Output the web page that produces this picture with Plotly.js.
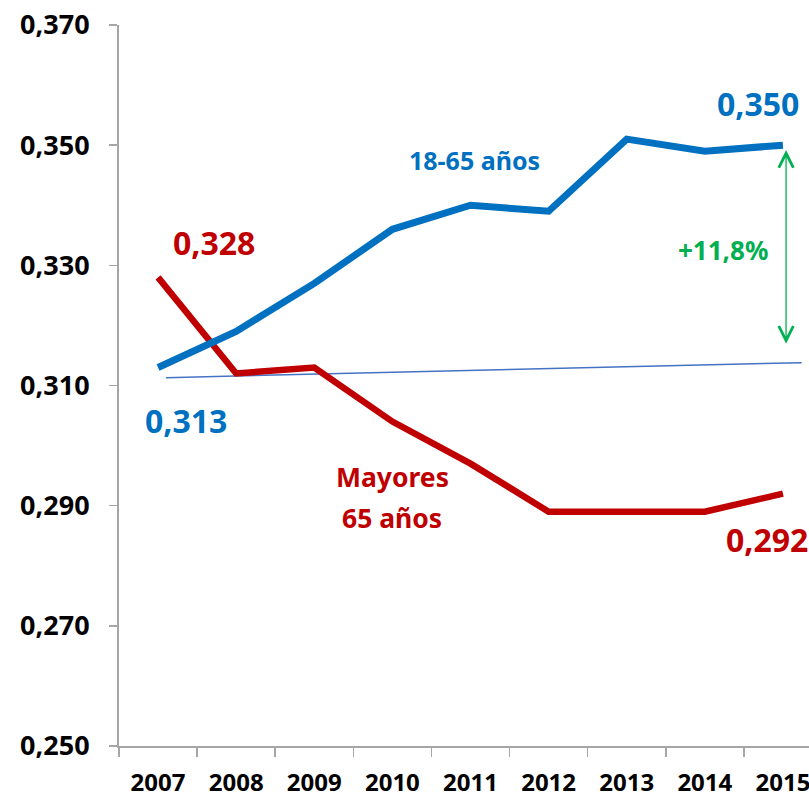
<!DOCTYPE html>
<html><head><meta charset="utf-8">
<script src="https://cdn.plot.ly/plotly-3.0.1.min.js"></script>
<style>html,body{margin:0;padding:0;overflow:hidden;background:#fff}#chart{width:822px;height:797px}</style>
</head><body><div id="chart"></div>
<script>
const years = [2007, 2008, 2009, 2010, 2011, 2012, 2013, 2014, 2015];
const adultos = [0.313, 0.319, 0.327, 0.336, 0.340, 0.339, 0.351, 0.349, 0.350];
const mayores = [0.328, 0.312, 0.313, 0.304, 0.297, 0.289, 0.289, 0.289, 0.292];
const trendX = [2007.1, 2015.24];
const trendY = [0.3113, 0.3138];
const yTicks = [0.250, 0.270, 0.290, 0.310, 0.330, 0.350, 0.370];

const FONT = 'Noto Sans, sans-serif';
const BLUE = '#0070C0', RED = '#C00000', GREEN = '#00B050';

const traces = [
  {x: trendX, y: trendY, mode: 'lines', line: {color: '#4472C4', width: 1.5}, hoverinfo: 'skip'},
  {x: years, y: mayores, mode: 'lines', line: {color: RED, width: 6.5}, name: 'Mayores 65 años'},
  {x: years, y: adultos, mode: 'lines', line: {color: BLUE, width: 7}, name: '18-65 años'}
];

function lab(x, y, text, color, size) {
  return {x: x, y: y, xref: 'x', yref: 'y', text: text, showarrow: false,
    font: {family: FONT, size: size, color: color, weight: 700}, xanchor: 'center', yanchor: 'middle'};
}

const layout = {
  width: 822, height: 797,
  margin: {l: 119, r: 0, t: 25, b: 51},
  separators: ',.',
  showlegend: false,
  paper_bgcolor: '#fff', plot_bgcolor: '#fff',
  font: {family: FONT, color: '#000'},
  xaxis: {
    range: [2006.5, 2015.5], tickvals: years, ticktext: years.map(String),
    ticks: '', showgrid: false, zeroline: false,
    showline: true, linecolor: '#A6A6A6', linewidth: 2,
    tickfont: {family: FONT, size: 24, color: '#000', weight: 700},
    ticklabelstandoff: 14,
    minor: {tick0: 2006.5, dtick: 1, ticks: 'outside', ticklen: 9, tickwidth: 1.5, tickcolor: '#A6A6A6', showgrid: false}
  },
  yaxis: {
    range: [0.250, 0.370], tickvals: yTicks, tickformat: '.3f',
    ticks: 'outside', ticklen: 8, tickwidth: 1.5, tickcolor: '#A6A6A6',
    showgrid: false, zeroline: false,
    showline: true, linecolor: '#A6A6A6', linewidth: 2,
    tickfont: {family: FONT, size: 27, color: '#000', weight: 700},
    ticklabelstandoff: 14
  },
  annotations: [
    lab(2014.68, 0.3570, '0,350', BLUE, 32),
    lab(2011.05, 0.3475, '18-65 años', BLUE, 25),
    lab(2007.71, 0.3338, '0,328', RED, 32),
    lab(2007.36, 0.3042, '0,313', BLUE, 32),
    lab(2010.0, 0.2947, 'Mayores', RED, 26.5),
    lab(2010.0, 0.2880, '65 años', RED, 26.5),
    lab(2014.79, 0.2843, '0,292', RED, 32),
    lab(2014.23, 0.3325, '+11,8%', GREEN, 26),
    {x: 2015.04, y: 0.3492, ax: 2015.04, ay: 0.3167, xref: 'x', yref: 'y', axref: 'x', ayref: 'y',
     text: '', showarrow: true, arrowside: 'end+start', arrowhead: 5, startarrowhead: 5,
     arrowsize: 2.2, startarrowsize: 2.2, arrowwidth: 1.3, arrowcolor: GREEN}
  ]
};

Plotly.newPlot('chart', traces, layout, {displayModeBar: false, staticPlot: true});
</script></body></html>
